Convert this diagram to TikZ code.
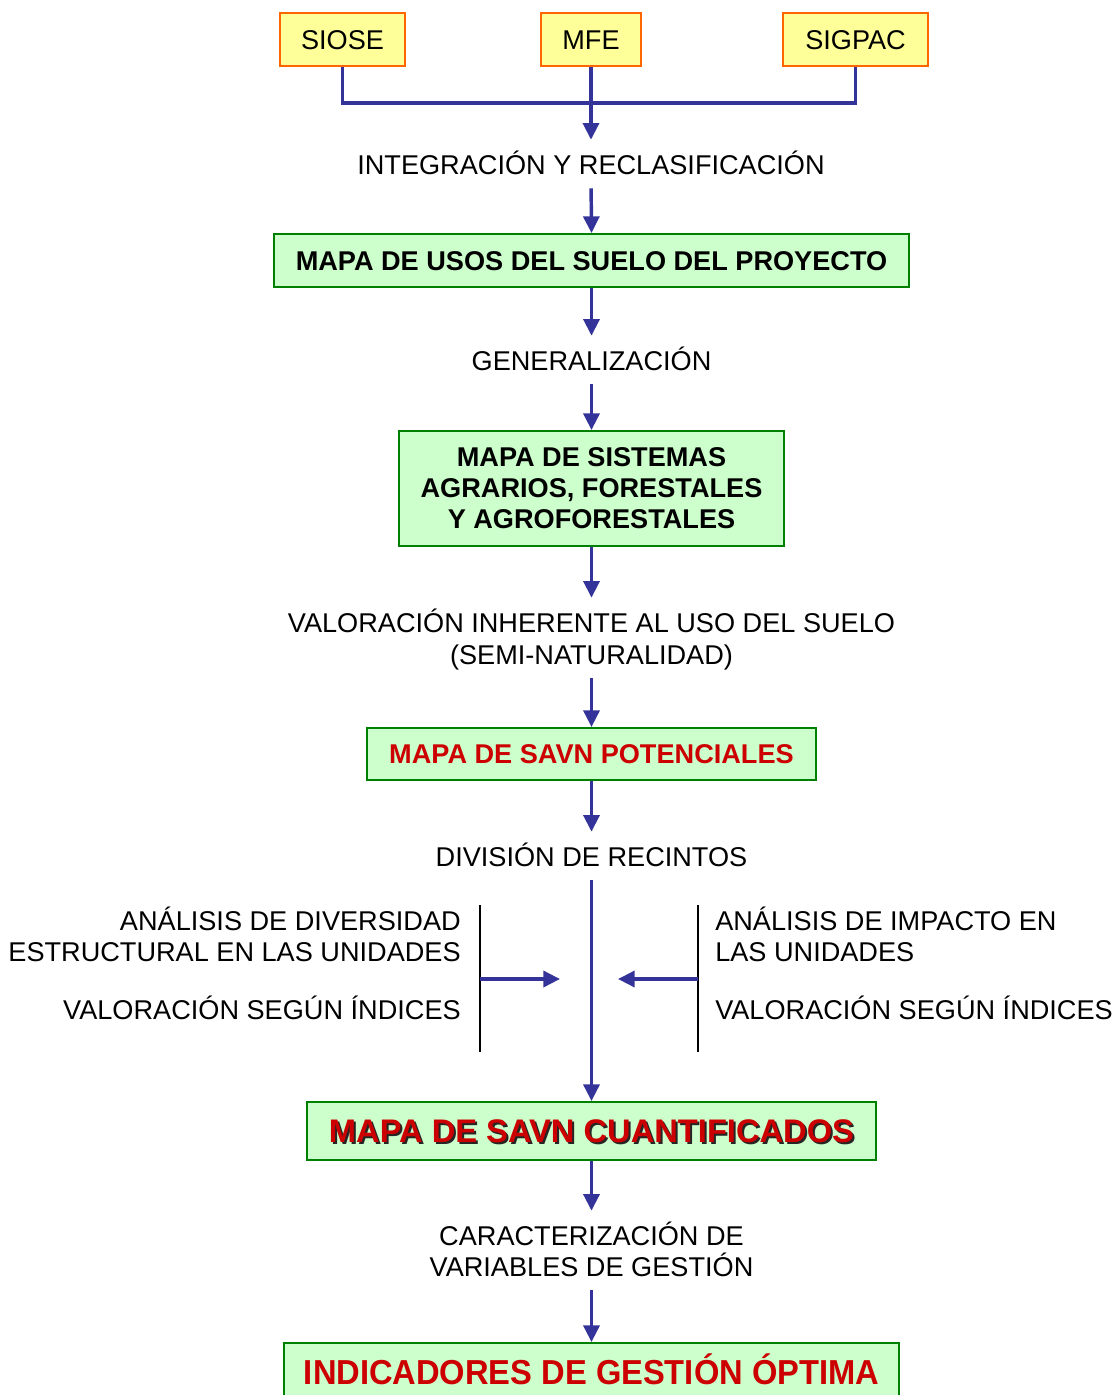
\documentclass[tikz,border=0pt]{standalone}
\usepackage{fontspec}
\setmainfont{Liberation Sans}
\usetikzlibrary{arrows.meta}
\definecolor{arrblue}{RGB}{51,51,153}
\definecolor{srcyellow}{RGB}{255,255,153}
\definecolor{srcorange}{RGB}{255,102,0}
\definecolor{boxgreen}{RGB}{0,128,0}
\definecolor{boxfill}{RGB}{204,255,204}
\definecolor{savnred}{RGB}{204,0,0}
\newcommand\pxu{0.75pt}
\newcommand\fsn{\fontsize{20.35}{23.25}\selectfont}
\newcommand\shadowtext[1]{\makebox[0pt][l]{\hspace{1.5pt}\raisebox{-1.5pt}{\color{black!85}#1}}#1}
\begin{document}
\begin{tikzpicture}[x=0.75pt,y=-0.75pt,
  src/.style={draw=srcorange, fill=srcyellow, line width=1.5pt, minimum height=53*\pxu, inner sep=0pt, font=\fsn, text height=14.57pt, text depth=0pt},
  mapbox/.style={draw=boxgreen, fill=boxfill, line width=1.5pt, inner sep=0pt, font=\fsn\bfseries},
  onel/.style={text height=14.57pt, text depth=0pt},
  lbl/.style={inner sep=0pt, font=\fsn, text height=14.57pt, text depth=0pt},
  conn/.style={draw=arrblue, line width=2.6pt},
  arr/.style={conn, -{Triangle[length=12.5pt,width=12pt]}},
  tolbl/.style={shorten >=11.5pt},
  fromlbl/.style={shorten <=10pt},
  bar/.style={draw=black, line width=1.3pt}]
\clip (0,0) rectangle (1115,1395);
\fill[white] (0,0) rectangle (1115,1395);

% sources
\node[src, minimum width=125*\pxu] (siose) at (342.5,39.5) {SIOSE};
\node[src, minimum width=100*\pxu] (mfe) at (591,39.5) {MFE};
\node[src, minimum width=145*\pxu] (sigpac) at (855.5,39.5) {SIGPAC};

% main chain
\node[lbl] (integ) at (591,165) {INTEGRACIÓN Y RECLASIFICACIÓN};
\node[mapbox, onel, minimum width=635*\pxu, minimum height=53*\pxu] (usos) at (591.5,260.5) {MAPA DE USOS DEL SUELO DEL PROYECTO};
\node[lbl] (gen) at (591.5,361) {GENERALIZACIÓN};
\node[mapbox, align=center, minimum width=385*\pxu, minimum height=115*\pxu] (sist) at (591.5,488.5) {MAPA DE SISTEMAS\\AGRARIOS, FORESTALES\\Y AGROFORESTALES};
\node[lbl] (val1) at (591.5,623) {VALORACIÓN INHERENTE AL USO DEL SUELO};
\node[lbl] (val2) at (591.5,655) {(SEMI-NATURALIDAD)};
\node[mapbox, onel, text=savnred, minimum width=449*\pxu, minimum height=52*\pxu] (pot) at (591.5,754) {MAPA DE SAVN POTENCIALES};
\node[lbl] (div) at (591.5,857) {DIVISIÓN DE RECINTOS};

% side analyses
\node[lbl, anchor=east] (la1) at (461,921) {ANÁLISIS DE DIVERSIDAD};
\node[lbl, anchor=east] (la2) at (461,952) {ESTRUCTURAL EN LAS UNIDADES};
\node[lbl, anchor=east] (la3) at (461,1010) {VALORACIÓN SEGÚN ÍNDICES};
\node[lbl, anchor=west] (ra1) at (715,921) {ANÁLISIS DE IMPACTO EN};
\node[lbl, anchor=west] (ra2) at (715,952) {LAS UNIDADES};
\node[lbl, anchor=west] (ra3) at (715,1010) {VALORACIÓN SEGÚN ÍNDICES};

\node[mapbox, text=savnred, minimum width=569*\pxu, minimum height=58*\pxu, font=\fontsize{24.5}{28}\selectfont\bfseries, text height=17.5pt, text depth=0pt] (cuant) at (591.5,1131) {\shadowtext{MAPA DE SAVN CUANTIFICADOS}};
\node[lbl] (car1) at (591.5,1236) {CARACTERIZACIÓN DE};
\node[lbl] (car2) at (591.5,1267) {VARIABLES DE GESTIÓN};
\node[mapbox, text=savnred, minimum width=615*\pxu, minimum height=59*\pxu, font=\fontsize{26}{30}\selectfont\bfseries, text height=18.6pt, text depth=0pt] (ind) at (591.5,1372.5) {\scalebox{0.942}[1]{INDICADORES DE GESTIÓN ÓPTIMA}};

% connectors
\draw[conn] (siose.south) -- ++(0,36) -| (sigpac.south);
\draw[arr, tolbl] (mfe.south) -- (integ.north);
\draw[arr, fromlbl] (integ.south) -- (usos.north);
\draw[arr, tolbl] (usos.south) -- (gen.north);
\draw[arr, fromlbl] (gen.south) -- (sist.north);
\draw[arr, tolbl] (sist.south) -- (val1.north);
\draw[arr, fromlbl] (val2.south) -- (pot.north);
\draw[arr, tolbl] (pot.south) -- (div.north);
\draw[arr, fromlbl] (div.south) -- (cuant.north);
\draw[arr, tolbl] (cuant.south) -- (car1.north);
\draw[arr, fromlbl] (car2.south) -- (ind.north);

\coordinate (lbtop) at (480,905);
\coordinate (lbbot) at (480,1052);
\coordinate (lafrom) at (480,979);
\coordinate (lato) at (560,979);
\coordinate (rbtop) at (698,905);
\coordinate (rbbot) at (698,1052);
\coordinate (rafrom) at (698,979);
\coordinate (rato) at (618,979);
\draw[bar] (lbtop) -- (lbbot);
\draw[bar] (rbtop) -- (rbbot);
\draw[arr] (lafrom) -- (lato);
\draw[arr] (rafrom) -- (rato);
\end{tikzpicture}
\end{document}
